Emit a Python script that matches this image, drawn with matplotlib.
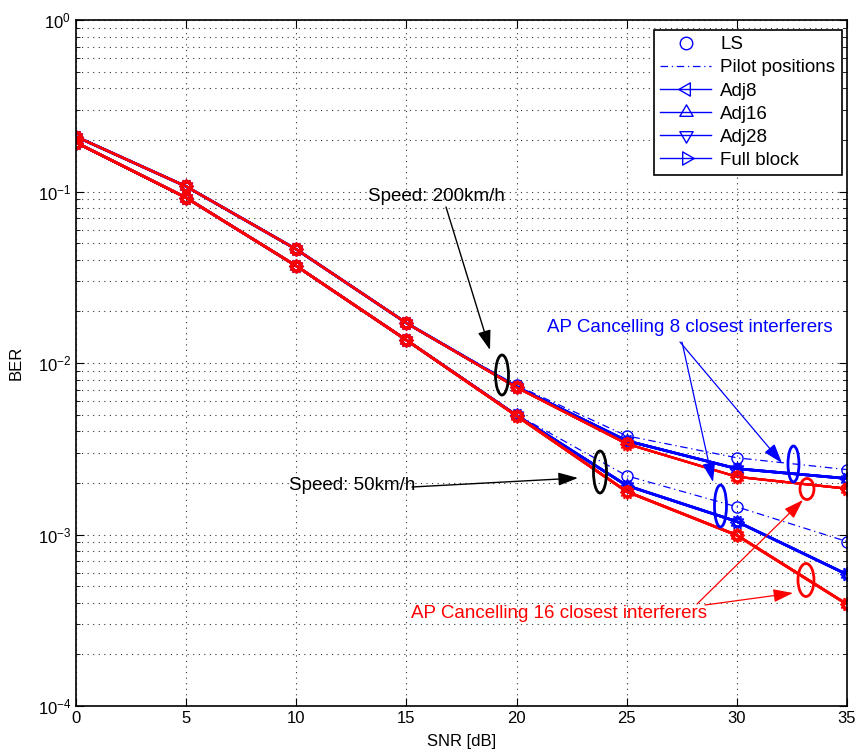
import numpy as np
import matplotlib
matplotlib.use("Agg")
import matplotlib.pyplot as plt
from matplotlib.patches import Ellipse
from matplotlib.lines import Line2D
from matplotlib.path import Path

plt.rcParams['font.family'] = ['Liberation Sans', 'DejaVu Sans']
plt.rcParams['mathtext.fontset'] = 'custom'
plt.rcParams['mathtext.rm'] = 'Liberation Sans'
plt.rcParams['mathtext.it'] = 'Liberation Sans'

snr = [0, 5, 10, 15, 20, 25, 30, 35]

# Speed 200 km/h
ls_200_ap8 = [0.209, 0.107, 0.046, 0.0172, 0.0074, 0.00376, 0.00280, 0.00239]
adj_200_ap8 = [0.209, 0.107, 0.046, 0.0171, 0.00725, 0.00352, 0.00242, 0.00212]
ls_200_ap16 = [0.209, 0.107, 0.046, 0.0171, 0.0072, 0.00340, 0.00218, 0.00186]
adj_200_ap16 = [0.209, 0.107, 0.046, 0.0171, 0.0072, 0.00338, 0.00217, 0.00185]

# Speed 50 km/h
ls_50_ap8 = [0.193, 0.092, 0.0368, 0.0136, 0.0050, 0.00220, 0.00145, 0.00091]
adj_50_ap8 = [0.193, 0.092, 0.0368, 0.0136, 0.00495, 0.00193, 0.00119, 0.000585]
ls_50_ap16 = [0.193, 0.092, 0.0368, 0.0136, 0.00492, 0.00179, 0.00099, 0.000393]
adj_50_ap16 = [0.193, 0.092, 0.0368, 0.0136, 0.00492, 0.00178, 0.00099, 0.000392]

legend_labels = ['LS', 'Pilot positions', 'Adj8', 'Adj16', 'Adj28', 'Full block']


def tri(angle_deg):
    a = np.deg2rad(angle_deg + np.array([0, 120, 240]))
    verts = np.column_stack([np.cos(a), np.sin(a)])
    verts = np.vstack([verts, verts[:1]])
    return Path(verts, [Path.MOVETO, Path.LINETO, Path.LINETO, Path.CLOSEPOLY])


adj_markers = [tri(180), tri(90), tri(270), tri(0)]

fig = plt.figure(figsize=(8.59, 7.55), dpi=100)
ax = fig.add_axes([0.0885, 0.0649, 0.8975, 0.9086])

DASHDOT = (0, (6, 3, 1, 3))


def draw_set(ls_vals, adj_vals, color, lw):
    ax.plot(snr, ls_vals, linestyle=DASHDOT, color=color, lw=0.9)
    ax.plot(snr, ls_vals, linestyle='none', marker='o', ms=8, mfc='none', mec=color, mew=1.0)
    for m in adj_markers:
        ax.plot(snr, adj_vals, linestyle='-', color=color, lw=lw, marker=m,
                ms=10, mfc='none', mec=color, mew=1.0)


draw_set(ls_200_ap8, adj_200_ap8, '#0000ff', 1.9)
draw_set(ls_50_ap8, adj_50_ap8, '#0000ff', 1.9)
draw_set(ls_200_ap16, adj_200_ap16, '#ff0000', 1.6)
draw_set(ls_50_ap16, adj_50_ap16, '#ff0000', 1.9)

ax.set_yscale('log')
ax.set_xlim(0, 35)
ax.set_ylim(1e-4, 1)
ax.set_xticks(snr)
ax.set_xlabel('SNR [dB]', fontsize=12, labelpad=6)
ax.set_ylabel('BER', fontsize=12, labelpad=10)
ax.tick_params(axis='both', which='both', direction='in', labelsize=12,
               top=True, right=True)
ax.tick_params(which='major', length=6)
ax.tick_params(which='minor', length=3)
ax.grid(True, which='major', linestyle=(0, (1, 4)), color='#333333', lw=0.8)
ax.grid(True, which='minor', axis='y', linestyle=(0, (1, 4)), color='#333333', lw=0.8)
for s in ax.spines.values():
    s.set_linewidth(1.2)

# legend
blue = '#0000ff'
handles = [
    Line2D([], [], linestyle='none', marker='o', ms=9, mfc='none', mec=blue),
    Line2D([], [], linestyle=DASHDOT, color=blue, lw=0.9),
]
for m in adj_markers:
    handles.append(Line2D([], [], linestyle='-', color=blue, lw=1.0, marker=m,
                          ms=11, mfc='none', mec=blue))
leg = ax.legend(handles, legend_labels, loc='upper right', bbox_to_anchor=(0.9935, 0.986),
                fontsize=13.5, handlelength=2.7, labelspacing=0.32, borderpad=0.35,
                handletextpad=0.5, fancybox=False, framealpha=1, edgecolor='black',
                borderaxespad=0)
leg.get_frame().set_linewidth(1.2)


def fx(px):
    return (px - 76) / 771.0


def fy(py):
    return (706 - py) / 686.0


T = ax.transAxes
ell = [
    ((502, 375), 13, 40, 'black'),
    ((600, 472), 13, 42, 'black'),
    ((720.5, 506), 12, 42, '#0000ff'),
    ((793.5, 464), 11, 36, '#0000ff'),
    ((807, 489), 14, 21, '#ff0000'),
    ((806, 580), 16, 33, '#ff0000'),
]
for (cx, cy), w, h, c in ell:
    ax.add_patch(Ellipse((fx(cx), fy(cy)), w / 771.0, h / 686.0, transform=T,
                         fill=False, edgecolor=c, lw=2.0, zorder=5))


def aprops(c, lw):
    return dict(arrowstyle='-|>,head_length=1.2,head_width=0.4', color=c, lw=lw,
                shrinkA=0, shrinkB=0)


FS = 13.5
ax.text(fx(436), fy(196), 'Speed: 200km/h', transform=T, fontsize=FS,
        ha='center', va='center', color='black')
ax.annotate('', xy=(fx(490), fy(350)), xytext=(fx(446), fy(207)), xycoords=T,
            textcoords=T, arrowprops=aprops('black', 1.0))

ax.text(fx(352), fy(485), 'Speed: 50km/h', transform=T, fontsize=FS,
        ha='center', va='center', color='black')
ax.annotate('', xy=(fx(578), fy(478)), xytext=(fx(412), fy(487)), xycoords=T,
            textcoords=T, arrowprops=aprops('black', 1.0))

ax.text(fx(690), fy(327), 'AP Cancelling 8 closest interferers', transform=T, fontsize=FS,
        ha='center', va='center', color='#0000ff')
ax.annotate('', xy=(fx(713), fy(482)), xytext=(fx(682), fy(342)), xycoords=T,
            textcoords=T, arrowprops=aprops('#0000ff', 0.9))
ax.annotate('', xy=(fx(782), fy(463)), xytext=(fx(680), fy(342)), xycoords=T,
            textcoords=T, arrowprops=aprops('#0000ff', 0.9))

ax.text(fx(559), fy(613), 'AP Cancelling 16 closest interferers', transform=T, fontsize=FS,
        ha='center', va='center', color='#ff0000')
ax.annotate('', xy=(fx(803), fy(500)), xytext=(fx(697), fy(604)), xycoords=T,
            textcoords=T, arrowprops=aprops('#ff0000', 0.9))
ax.annotate('', xy=(fx(793), fy(593)), xytext=(fx(705), fy(605)), xycoords=T,
            textcoords=T, arrowprops=aprops('#ff0000', 0.9))

fig.savefig('out.png', dpi=100)
